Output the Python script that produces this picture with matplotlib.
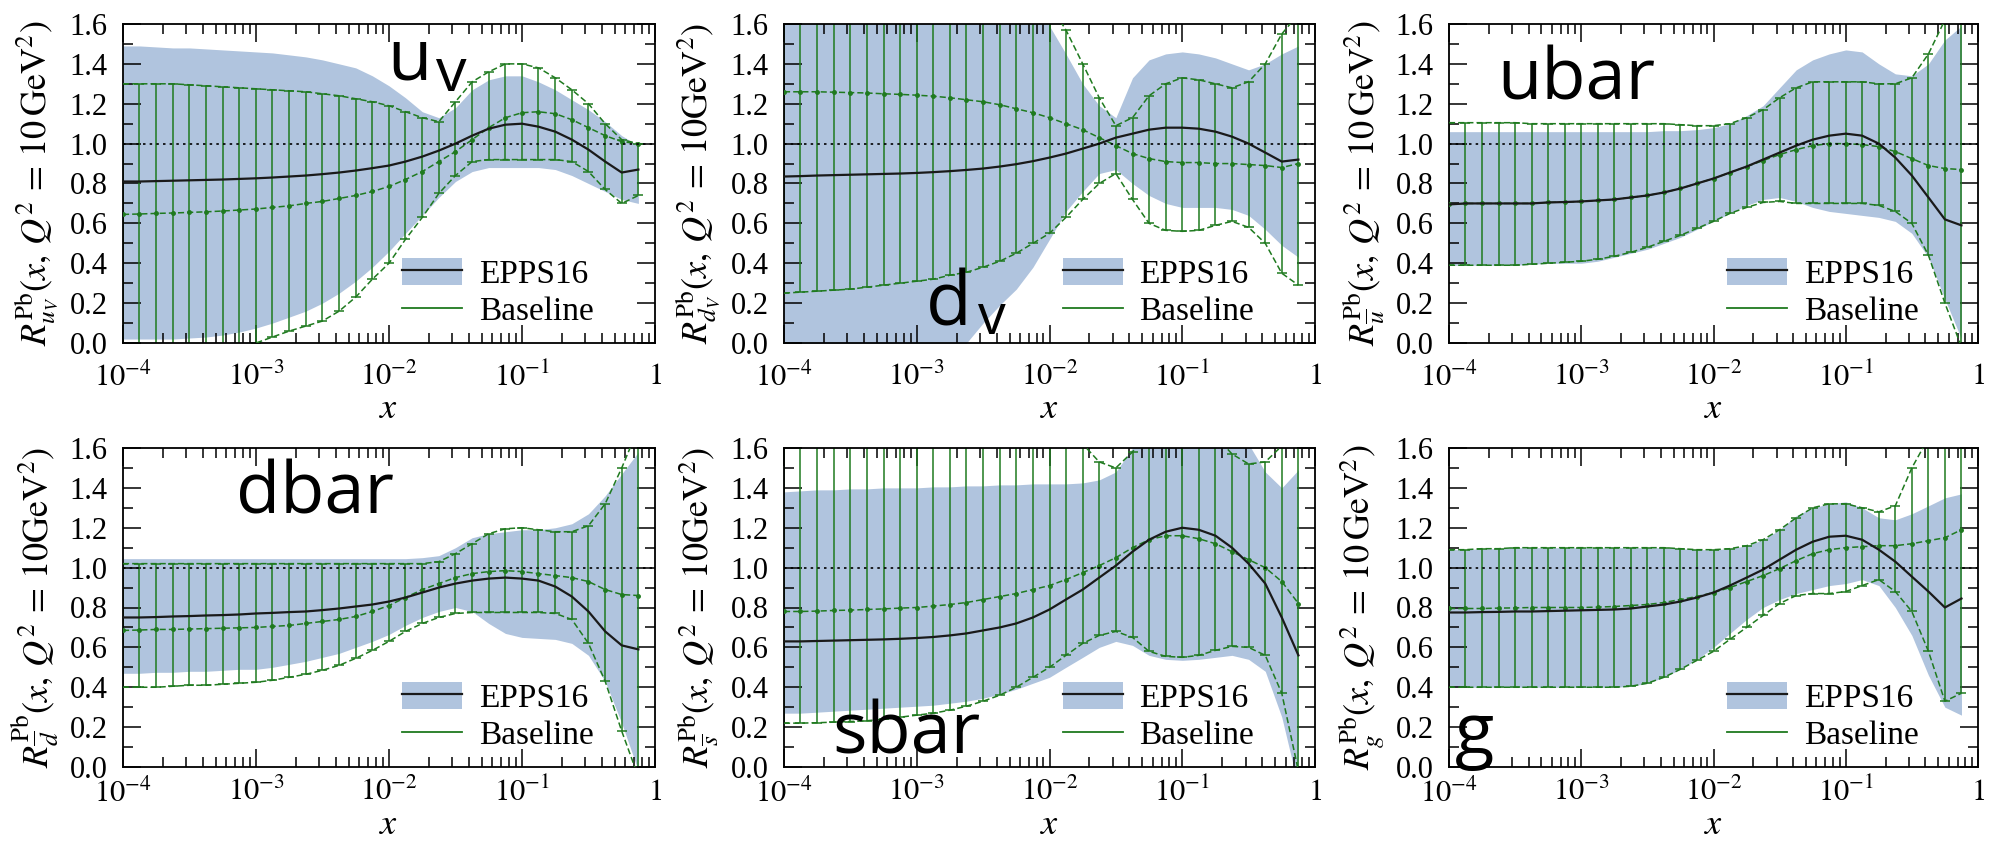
import matplotlib
matplotlib.use("Agg")
import matplotlib.pyplot as plt
from matplotlib.lines import Line2D
from matplotlib.patches import Patch
from matplotlib.ticker import MultipleLocator, LogLocator, NullFormatter, FixedLocator, FixedFormatter

plt.rcParams['font.family'] = ['Liberation Serif', 'DejaVu Serif']
plt.rcParams['mathtext.fontset'] = 'stix'

# x grid of the baseline error bars (8 per decade)
x = [1.00e-4, 1.33e-4, 1.78e-4, 2.37e-4, 3.16e-4, 4.22e-4, 5.62e-4, 7.50e-4,
     1.00e-3, 1.33e-3, 1.78e-3, 2.37e-3, 3.16e-3, 4.22e-3, 5.62e-3, 7.50e-3,
     1.00e-2, 1.33e-2, 1.78e-2, 2.37e-2, 3.16e-2, 4.22e-2, 5.62e-2, 7.50e-2,
     0.100, 0.133, 0.178, 0.237, 0.316, 0.422, 0.562, 0.750]

# u valence
uv_epps = [0.81, 0.81, 0.812, 0.814, 0.816, 0.818, 0.82, 0.823, 0.826, 0.83, 0.835, 0.84, 0.847, 0.855, 0.865, 0.877,
           0.89, 0.91, 0.935, 0.965, 1.00, 1.04, 1.075, 1.095, 1.10, 1.085, 1.06, 1.02, 0.97, 0.91, 0.855, 0.87]
uv_epps_lo = [0.02, 0.02, 0.02, 0.02, 0.025, 0.03, 0.04, 0.055, 0.075, 0.10, 0.13, 0.16, 0.20, 0.25, 0.31, 0.38,
              0.46, 0.55, 0.64, 0.73, 0.81, 0.86, 0.88, 0.88, 0.88, 0.88, 0.87, 0.84, 0.80, 0.76, 0.72, 0.70]
uv_epps_hi = [1.49, 1.49, 1.485, 1.48, 1.48, 1.475, 1.47, 1.465, 1.46, 1.455, 1.445, 1.435, 1.42, 1.40, 1.38, 1.34,
              1.29, 1.23, 1.16, 1.13, 1.18, 1.27, 1.32, 1.34, 1.34, 1.31, 1.27, 1.22, 1.17, 1.11, 1.04, 0.99]
uv_base = [0.645, 0.647, 0.65, 0.652, 0.655, 0.658, 0.662, 0.667, 0.672, 0.68, 0.688, 0.70, 0.71, 0.725, 0.74, 0.76,
           0.785, 0.82, 0.86, 0.91, 0.96, 1.02, 1.08, 1.13, 1.155, 1.16, 1.15, 1.12, 1.08, 1.04, 1.01, 1.00]
uv_base_lo = [-0.30, -0.27, -0.24, -0.21, -0.18, -0.14, -0.10, -0.05, 0.0, 0.03, 0.06, 0.085, 0.11, 0.16, 0.23, 0.32,
              0.40, 0.52, 0.63, 0.75, 0.84, 0.91, 0.92, 0.92, 0.92, 0.92, 0.92, 0.91, 0.86, 0.77, 0.70, 0.74]
uv_base_hi = [1.30, 1.30, 1.30, 1.30, 1.295, 1.29, 1.285, 1.28, 1.275, 1.27, 1.265, 1.26, 1.25, 1.24, 1.225, 1.21,
              1.19, 1.16, 1.13, 1.11, 1.21, 1.31, 1.36, 1.40, 1.40, 1.38, 1.33, 1.27, 1.20, 1.10, 1.02, 1.00]

# d valence
dv_epps = [0.835, 0.837, 0.84, 0.842, 0.844, 0.846, 0.848, 0.85, 0.853, 0.857, 0.862, 0.868, 0.875, 0.885, 0.897, 0.912,
           0.93, 0.95, 0.975, 1.00, 1.03, 1.05, 1.07, 1.08, 1.08, 1.075, 1.06, 1.035, 1.00, 0.955, 0.91, 0.92]
dv_epps_lo = [-0.50, -0.46, -0.42, -0.38, -0.35, -0.31, -0.27, -0.22, -0.18, -0.13, -0.09, 0.0, 0.10, 0.19, 0.27, 0.38,
              0.52, 0.66, 0.76, 0.85, 0.87, 0.80, 0.74, 0.70, 0.68, 0.68, 0.68, 0.67, 0.64, 0.57, 0.49, 0.43]
dv_epps_hi = [2.2, 2.18, 2.16, 2.14, 2.12, 2.10, 2.08, 2.06, 2.04, 2.02, 2.0, 1.97, 1.94, 1.90, 1.84, 1.72,
              1.59, 1.45, 1.30, 1.19, 1.13, 1.33, 1.42, 1.45, 1.46, 1.45, 1.43, 1.40, 1.37, 1.40, 1.45, 1.49]
dv_base = [1.26, 1.26, 1.26, 1.258, 1.256, 1.254, 1.25, 1.247, 1.243, 1.238, 1.23, 1.22, 1.21, 1.195, 1.175, 1.155,
           1.13, 1.10, 1.07, 1.03, 0.99, 0.95, 0.925, 0.91, 0.905, 0.905, 0.90, 0.90, 0.895, 0.89, 0.88, 0.90]
dv_base_lo = [0.25, 0.255, 0.26, 0.265, 0.27, 0.28, 0.29, 0.30, 0.31, 0.32, 0.34, 0.355, 0.38, 0.41, 0.45, 0.50,
              0.55, 0.63, 0.72, 0.80, 0.85, 0.72, 0.60, 0.565, 0.56, 0.565, 0.59, 0.61, 0.58, 0.50, 0.35, 0.29]
dv_base_hi = [2.1, 2.1, 2.1, 2.1, 2.1, 2.1, 2.1, 2.1, 2.1, 2.1, 2.05, 2.0, 1.95, 1.9, 1.85, 1.78,
              1.70, 1.57, 1.40, 1.23, 1.09, 1.13, 1.24, 1.30, 1.33, 1.32, 1.30, 1.28, 1.31, 1.40, 1.55, 1.65]

# u bar
ub_epps = [0.695, 0.70, 0.70, 0.70, 0.70, 0.70, 0.705, 0.707, 0.71, 0.715, 0.72, 0.73, 0.74, 0.755, 0.775, 0.80,
           0.825, 0.855, 0.885, 0.92, 0.955, 0.99, 1.02, 1.04, 1.05, 1.04, 1.00, 0.93, 0.84, 0.73, 0.62, 0.59]
ub_epps_lo = [0.39, 0.39, 0.39, 0.39, 0.39, 0.395, 0.40, 0.40, 0.40, 0.41, 0.43, 0.45, 0.47, 0.50, 0.53, 0.57,
              0.61, 0.65, 0.69, 0.72, 0.73, 0.71, 0.68, 0.66, 0.65, 0.64, 0.63, 0.61, 0.55, 0.43, 0.22, 0.02]
ub_epps_hi = [1.06, 1.06, 1.06, 1.06, 1.06, 1.06, 1.06, 1.06, 1.06, 1.06, 1.06, 1.06, 1.06, 1.065, 1.065, 1.07,
              1.08, 1.10, 1.14, 1.19, 1.28, 1.37, 1.42, 1.45, 1.47, 1.46, 1.40, 1.35, 1.34, 1.40, 1.52, 1.59]
ub_base = [0.695, 0.70, 0.70, 0.70, 0.70, 0.70, 0.705, 0.707, 0.71, 0.715, 0.72, 0.73, 0.74, 0.755, 0.775, 0.80,
           0.825, 0.855, 0.885, 0.915, 0.945, 0.97, 0.99, 1.00, 1.00, 0.995, 0.985, 0.96, 0.925, 0.89, 0.875, 0.87]
ub_base_lo = [0.39, 0.39, 0.39, 0.39, 0.39, 0.395, 0.40, 0.405, 0.41, 0.42, 0.435, 0.455, 0.48, 0.51, 0.54, 0.575,
              0.61, 0.65, 0.68, 0.705, 0.71, 0.70, 0.70, 0.70, 0.70, 0.70, 0.69, 0.66, 0.60, 0.44, 0.20, -0.02]
ub_base_hi = [1.105, 1.105, 1.105, 1.105, 1.105, 1.10, 1.10, 1.10, 1.10, 1.10, 1.10, 1.10, 1.10, 1.10, 1.095, 1.09,
              1.09, 1.10, 1.13, 1.17, 1.23, 1.28, 1.31, 1.31, 1.31, 1.31, 1.30, 1.30, 1.33, 1.45, 1.62, 1.85]

# d bar
db_epps = [0.75, 0.75, 0.752, 0.755, 0.757, 0.76, 0.762, 0.765, 0.77, 0.773, 0.777, 0.78, 0.787, 0.795, 0.805, 0.815,
           0.83, 0.85, 0.875, 0.90, 0.92, 0.935, 0.945, 0.95, 0.945, 0.935, 0.905, 0.855, 0.78, 0.68, 0.61, 0.59]
db_epps_lo = [0.47, 0.47, 0.475, 0.475, 0.48, 0.48, 0.485, 0.49, 0.49, 0.50, 0.515, 0.53, 0.55, 0.57, 0.60, 0.63,
              0.665, 0.71, 0.75, 0.78, 0.80, 0.78, 0.72, 0.67, 0.65, 0.645, 0.64, 0.62, 0.56, 0.43, 0.22, -0.02]
db_epps_hi = [1.045, 1.045, 1.045, 1.045, 1.045, 1.045, 1.045, 1.045, 1.045, 1.045, 1.045, 1.045, 1.045, 1.045,
              1.045, 1.045, 1.045, 1.045, 1.05, 1.06, 1.10, 1.15, 1.17, 1.18, 1.19, 1.19, 1.20, 1.22, 1.27, 1.36,
              1.47, 1.58]
db_base = [0.685, 0.687, 0.69, 0.69, 0.692, 0.694, 0.696, 0.698, 0.70, 0.705, 0.71, 0.72, 0.73, 0.74, 0.755, 0.78,
           0.81, 0.85, 0.89, 0.92, 0.95, 0.97, 0.98, 0.985, 0.98, 0.97, 0.96, 0.95, 0.93, 0.89, 0.865, 0.86]
db_base_lo = [0.40, 0.40, 0.40, 0.405, 0.41, 0.41, 0.415, 0.42, 0.425, 0.435, 0.45, 0.465, 0.485, 0.51, 0.545, 0.585,
              0.63, 0.68, 0.72, 0.75, 0.77, 0.775, 0.775, 0.775, 0.775, 0.775, 0.77, 0.74, 0.62, 0.43, 0.18, -0.05]
db_base_hi = [1.02, 1.02, 1.02, 1.02, 1.02, 1.02, 1.02, 1.02, 1.02, 1.02, 1.02, 1.02, 1.02, 1.02, 1.02, 1.02,
              1.02, 1.02, 1.02, 1.03, 1.07, 1.12, 1.17, 1.195, 1.20, 1.19, 1.18, 1.18, 1.21, 1.32, 1.50, 1.70]

# s bar
sb_epps = [0.63, 0.63, 0.632, 0.634, 0.636, 0.638, 0.64, 0.643, 0.647, 0.652, 0.66, 0.67, 0.685, 0.70, 0.72, 0.75,
           0.79, 0.84, 0.89, 0.95, 1.01, 1.08, 1.14, 1.18, 1.20, 1.19, 1.16, 1.10, 1.02, 0.92, 0.75, 0.56]
sb_epps_lo = [0.27, 0.27, 0.275, 0.28, 0.285, 0.29, 0.295, 0.30, 0.305, 0.31, 0.32, 0.33, 0.345, 0.365, 0.39, 0.42,
              0.45, 0.50, 0.55, 0.60, 0.63, 0.61, 0.56, 0.54, 0.535, 0.54, 0.55, 0.56, 0.54, 0.48, 0.25, -0.10]
sb_epps_hi = [1.38, 1.385, 1.39, 1.39, 1.395, 1.395, 1.40, 1.40, 1.40, 1.405, 1.405, 1.41, 1.41, 1.415, 1.415, 1.42,
              1.42, 1.42, 1.425, 1.44, 1.48, 1.60, 1.72, 1.80, 1.85, 1.85, 1.80, 1.72, 1.62, 1.48, 1.40, 1.49]
sb_base = [0.78, 0.78, 0.782, 0.785, 0.787, 0.79, 0.793, 0.797, 0.80, 0.807, 0.815, 0.825, 0.84, 0.855, 0.87, 0.89,
           0.91, 0.94, 0.975, 1.01, 1.05, 1.10, 1.14, 1.16, 1.16, 1.145, 1.12, 1.08, 1.04, 1.00, 0.93, 0.82]
sb_base_lo = [0.22, 0.22, 0.222, 0.225, 0.228, 0.232, 0.24, 0.25, 0.26, 0.27, 0.285, 0.305, 0.33, 0.36, 0.40, 0.45,
              0.50, 0.56, 0.62, 0.66, 0.68, 0.65, 0.58, 0.555, 0.55, 0.56, 0.585, 0.605, 0.60, 0.56, 0.37, -0.02]
sb_base_hi = [1.9, 1.9, 1.9, 1.9, 1.9, 1.9, 1.9, 1.9, 1.9, 1.9, 1.9, 1.9, 1.9, 1.9, 1.9, 1.9,
              1.9, 1.68, 1.62, 1.53, 1.50, 1.58, 1.70, 1.80, 1.80, 1.75, 1.66, 1.57, 1.52, 1.53, 1.61, 1.70]

# gluon
g_epps = [0.775, 0.775, 0.777, 0.778, 0.78, 0.78, 0.782, 0.784, 0.786, 0.788, 0.79, 0.795, 0.805, 0.815, 0.83, 0.85,
          0.875, 0.91, 0.95, 0.99, 1.04, 1.09, 1.13, 1.155, 1.16, 1.14, 1.09, 1.03, 0.955, 0.88, 0.80, 0.845]
g_epps_lo = [0.40, 0.40, 0.40, 0.40, 0.40, 0.40, 0.40, 0.40, 0.40, 0.40, 0.40, 0.405, 0.42, 0.45, 0.49, 0.54,
             0.60, 0.67, 0.74, 0.80, 0.84, 0.87, 0.89, 0.91, 0.92, 0.94, 0.91, 0.80, 0.66, 0.46, 0.30, 0.26]
g_epps_hi = [1.09, 1.09, 1.095, 1.095, 1.10, 1.10, 1.10, 1.10, 1.10, 1.10, 1.10, 1.10, 1.10, 1.10, 1.095, 1.09,
             1.09, 1.095, 1.11, 1.14, 1.19, 1.26, 1.30, 1.32, 1.33, 1.30, 1.25, 1.24, 1.27, 1.31, 1.35, 1.37]
g_base = [0.795, 0.795, 0.795, 0.797, 0.798, 0.80, 0.80, 0.80, 0.80, 0.802, 0.805, 0.81, 0.815, 0.825, 0.84, 0.855,
          0.875, 0.90, 0.93, 0.96, 0.995, 1.035, 1.07, 1.09, 1.10, 1.105, 1.11, 1.11, 1.12, 1.135, 1.15, 1.19]
g_base_lo = [0.40, 0.40, 0.40, 0.40, 0.40, 0.40, 0.40, 0.40, 0.40, 0.40, 0.40, 0.405, 0.42, 0.45, 0.49, 0.535,
             0.58, 0.64, 0.70, 0.76, 0.82, 0.86, 0.87, 0.87, 0.88, 0.91, 0.94, 0.88, 0.78, 0.58, 0.33, 0.37]
g_base_hi = [1.09, 1.09, 1.095, 1.095, 1.10, 1.10, 1.10, 1.10, 1.10, 1.10, 1.10, 1.10, 1.10, 1.10, 1.095, 1.09,
             1.09, 1.095, 1.11, 1.14, 1.19, 1.25, 1.30, 1.32, 1.32, 1.30, 1.28, 1.31, 1.50, 1.65, 1.85, 2.0]

ylabels = [r'$R^{\rm Pb}_{u_V}(x,\,Q^2\,=\,10\,{\rm GeV}^2)$',
           r'$R^{\rm Pb}_{d_V}(x,\,Q^2\,=\,10{\rm GeV}^2)$',
           r'$R^{\rm Pb}_{\overline{u}}(x,\,Q^2\,=\,10\,{\rm GeV}^2)$',
           r'$R^{\rm Pb}_{\overline{d}}(x,\,Q^2\,=\,10{\rm GeV}^2)$',
           r'$R^{\rm Pb}_{\overline{s}}(x,\,Q^2\,=\,10{\rm GeV}^2)$',
           r'$R^{\rm Pb}_{g}(x,\,Q^2\,=\,10\,{\rm GeV}^2)$']

panels = [
    (uv_epps, uv_epps_lo, uv_epps_hi, uv_base, uv_base_lo, uv_base_hi),
    (dv_epps, dv_epps_lo, dv_epps_hi, dv_base, dv_base_lo, dv_base_hi),
    (ub_epps, ub_epps_lo, ub_epps_hi, ub_base, ub_base_lo, ub_base_hi),
    (db_epps, db_epps_lo, db_epps_hi, db_base, db_base_lo, db_base_hi),
    (sb_epps, sb_epps_lo, sb_epps_hi, sb_base, sb_base_lo, sb_base_hi),
    (g_epps, g_epps_lo, g_epps_hi, g_base, g_base_lo, g_base_hi),
]

W, H = 1993, 844
BAND = '#b0c4de'
GREEN = '#1f7a1f'

fig = plt.figure(figsize=(W / 100, H / 100), dpi=100)

# axes boxes in pixels: left, top, right, bottom
cols = [(123, 655), (784, 1315), (1449, 1978)]
rows = [(24, 343), (448, 767)]

for i, (epps, elo, ehi, base, blo, bhi) in enumerate(panels):
    l, r = cols[i % 3]
    t, b = rows[i // 3]
    ax = fig.add_axes([l / W, 1 - b / H, (r - l) / W, (b - t) / H])

    ax.fill_between(x, elo, ehi, color=BAND, lw=0, zorder=1)
    ax.plot(x, epps, color='#1a1a1a', lw=1.6, zorder=4)

    yerr = [[c - lo for c, lo in zip(base, blo)], [hi - c for c, hi in zip(base, bhi)]]
    ax.errorbar(x, base, yerr=yerr, fmt='none', ecolor=GREEN, elinewidth=1.1,
                capsize=3.5, capthick=1.1, zorder=2)
    ax.plot(x, base, color=GREEN, lw=1.1, ls=(0, (4, 2)), marker='o', ms=2.5, zorder=3)
    ax.plot(x, blo, color=GREEN, lw=1.1, ls=(0, (4, 2)), zorder=3)
    ax.plot(x, bhi, color=GREEN, lw=1.1, ls=(0, (4, 2)), zorder=3)

    ax.axhline(1.0, color='black', lw=1.2, ls=(0, (1.5, 2.5)), zorder=5)

    ax.set_xscale('log')
    ax.set_xlim(1e-4, 1)
    ax.set_ylim(0, 1.6)
    ax.xaxis.set_major_locator(FixedLocator([1e-4, 1e-3, 1e-2, 1e-1, 1]))
    ax.xaxis.set_major_formatter(FixedFormatter([r'$10^{-4}$', r'$10^{-3}$', r'$10^{-2}$', r'$10^{-1}$', r'$1$']))
    ax.xaxis.set_minor_locator(LogLocator(base=10, subs=range(2, 10), numticks=20))
    ax.xaxis.set_minor_formatter(NullFormatter())
    ax.yaxis.set_major_locator(MultipleLocator(0.2))
    ax.yaxis.set_minor_locator(MultipleLocator(0.1))
    ax.yaxis.set_major_formatter(matplotlib.ticker.FormatStrFormatter('%.1f'))

    ax.tick_params(which='both', direction='in', top=True, right=True, width=1.1, labelsize=22)
    ax.tick_params(which='major', length=13)
    ax.tick_params(which='minor', length=7)
    # bottom row sits at the figure edge, so its tick labels go a bit closer
    ax.tick_params(axis='x', pad=14 if i < 3 else 8)
    ax.tick_params(axis='y', pad=11)
    for s in ax.spines.values():
        s.set_linewidth(1.3)

    ax.set_xlabel(r'$x$', fontsize=26, labelpad=0)
    ax.set_ylabel(ylabels[i], fontsize=26, labelpad=6)

    h_epps = (Patch(facecolor=BAND, edgecolor='none'), Line2D([], [], color='#1a1a1a', lw=1.6))
    h_base = Line2D([], [], color=GREEN, lw=1.3)
    ax.legend([h_epps, h_base], ['EPPS16', 'Baseline'], loc='lower left', bbox_to_anchor=(0.475, -0.035),
              frameon=False, fontsize=24, handlelength=1.8, handleheight=0.9, handletextpad=0.5,
              labelspacing=0.15, borderpad=0.3)

# big hand-written style labels
def label(px, py, s, size):
    fig.text(px / W, 1 - py / H, s, fontsize=size, family='Open Sans', va='baseline', ha='left')

label(387, 79, 'u', 52)
label(436, 91, 'v', 44)
label(926, 326, 'd', 54)
label(978, 334, 'v', 40)
label(1497, 100, 'ubar', 52)
label(236, 513, 'dbar', 52)
label(832, 754, 'sbar', 52)
label(1455, 754, 'g', 52)

fig.savefig('out.png', dpi=100)
